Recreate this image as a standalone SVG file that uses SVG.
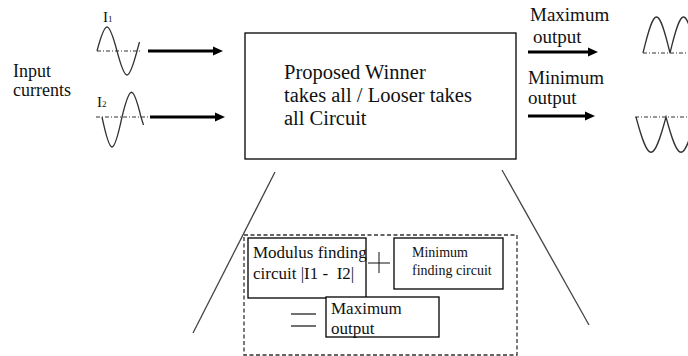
<svg xmlns="http://www.w3.org/2000/svg" width="688" height="356" viewBox="0 0 688 356">
<defs>
<marker id="ah" markerUnits="userSpaceOnUse" markerWidth="12" markerHeight="12" refX="1" refY="5" orient="auto">
<path d="M0,0.5 L10,5 L0,9.5 z" fill="#000"/>
</marker>
<style>
text{font-family:"Liberation Serif","Times New Roman",serif;fill:#111;}
.t20{font-size:20.5px;}
.t19{font-size:19px;}
.t18{font-size:18px;}
.t17{font-size:17px;}
.t14{font-size:14px;}
.box{fill:#fff;stroke:#000;stroke-width:1.3;}
.arrow{stroke:#000;stroke-width:3;fill:none;marker-end:url(#ah);}
.wave{fill:none;stroke:#333;stroke-width:1.3;}
.axis{fill:none;stroke:#333;stroke-width:1;stroke-dasharray:4 2 1 2;}
.diag{stroke:#444;stroke-width:1.3;}
.dash{fill:none;stroke:#333;stroke-width:1.3;stroke-dasharray:4 2.5;}
</style>
</defs>
<rect width="688" height="356" fill="#fff"/>

<g id="input-label">
<text class="t18" x="13" y="77">Input</text>
<text class="t18" x="13" y="96">currents</text>
</g>

<g id="wave-i1">
<text style="font-size:15px" x="103" y="22">I<tspan style="font-size:9px">1</tspan></text>
<line class="axis" x1="97" y1="51" x2="140" y2="51"/>
<path class="wave" d="M97,51 C105.5,19 108.5,19 117,51 C125.5,83 128.5,83 137,51 L139.5,42"/>
</g>

<g id="wave-i2">
<text style="font-size:15px" x="97" y="107">I<tspan style="font-size:9px">2</tspan></text>
<line class="axis" x1="96" y1="117" x2="150" y2="117"/>
<path class="wave" d="M102,117 C110.5,157 113.5,157 122,117 C130,84 133,84 141,117 L143.5,125"/>
</g>

<g id="main-box">
<rect class="box" x="245" y="33" width="271" height="126"/>
<text class="t20" x="284" y="79">Proposed Winner</text>
<text class="t20" x="284" y="102">takes all / Looser takes</text>
<text class="t20" x="284" y="125">all Circuit</text>
</g>

<g id="max-out-label">
<text class="t19" x="530" y="21">Maximum</text>
<text class="t19" x="533" y="43">output</text>
</g>

<g id="min-out-label">
<text class="t19" x="528" y="84">Minimum</text>
<text class="t19" x="528" y="104">output</text>
</g>

<g id="wave-max">
<line class="axis" x1="643" y1="53" x2="688" y2="53"/>
<path class="wave" d="M643,53 C654.5,5 658.5,5 670,53 C681.5,5 685.5,5 697,53"/>
</g>

<g id="wave-min">
<line class="axis" x1="635" y1="117" x2="688" y2="117"/>
<path class="wave" d="M636,117 C648.5,164 653.5,164 666,117 C678.5,164 683.5,164 696,117"/>
</g>

<g id="detail-box">
<rect class="dash" x="244" y="235" width="273" height="120"/>
</g>

<g id="modulus-box">
<rect class="box" x="248" y="238" width="118" height="60"/>
<text class="t17" x="253" y="258">Modulus finding</text>
<text class="t17" x="253" y="279" style="white-space:pre">circuit |I1 -  I2|</text>
</g>

<g id="plus">
<line x1="368" y1="263" x2="390" y2="263" stroke="#111" stroke-width="1"/>
<line x1="379" y1="252" x2="379" y2="273" stroke="#111" stroke-width="1"/>
</g>

<g id="minimum-box">
<rect class="box" x="394" y="238" width="109" height="51"/>
<text class="t14" x="412" y="257">Minimum</text>
<text class="t14" x="412" y="275">finding circuit</text>
</g>

<g id="equals">
<line x1="291" y1="314" x2="316" y2="314" stroke="#111" stroke-width="1.2"/>
<line x1="291" y1="326" x2="316" y2="326" stroke="#111" stroke-width="1.2"/>
</g>

<g id="maximum-box">
<rect class="box" x="326" y="297" width="113" height="40"/>
<text class="t17" x="331" y="314">Maximum</text>
<text class="t17" x="331" y="334">output</text>
</g>

<g id="connectors">
<line class="arrow" x1="148" y1="51" x2="214" y2="51"/>
<line class="arrow" x1="150" y1="117" x2="216" y2="117"/>
<line class="arrow" x1="528" y1="52" x2="589" y2="52"/>
<line class="arrow" x1="528" y1="116" x2="586" y2="116"/>
<line class="diag" x1="275" y1="172" x2="193" y2="333"/>
<line class="diag" x1="502" y1="170" x2="589" y2="325"/>
</g>
</svg>
